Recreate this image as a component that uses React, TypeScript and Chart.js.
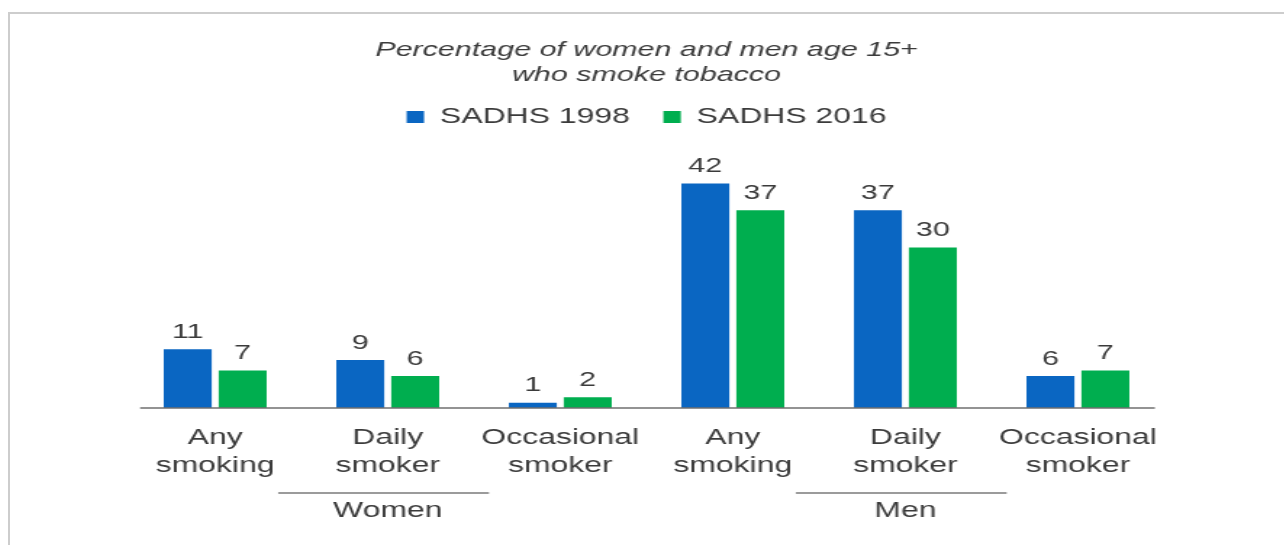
import React, { useEffect, useRef } from "react";
import { Chart, registerables } from "chart.js";

Chart.register(...registerables);

// Chart content
const titleLines = ["Percentage of women and men age 15+", "who smoke tobacco"];
const categories = [
  ["Any", "smoking"],
  ["Daily", "smoker"],
  ["Occasional", "smoker"],
  ["Any", "smoking"],
  ["Daily", "smoker"],
  ["Occasional", "smoker"],
];
const groups = ["Women", "Men"];
const seriesNames = ["SADHS 1998", "SADHS 2016"];
const values1998 = [11, 9, 1, 42, 37, 6];
const values2016 = [7, 6, 2, 37, 30, 7];

const FONT = "'Liberation Sans', Arial, Helvetica, sans-serif";
const TEXT = "#3b3b3b";
const BLUE = "#0a66c2";
const GREEN = "#00ae4f";
// the whole drawing is widened horizontally
const STRETCH = 1.45;

// numbers above each bar
const valueLabels = {
  id: "valueLabels",
  afterDatasetsDraw(chart: any) {
    const ctx = chart.ctx;
    ctx.save();
    ctx.font = `21px ${FONT}`;
    ctx.fillStyle = TEXT;
    ctx.textAlign = "center";
    ctx.textBaseline = "middle";
    chart.data.datasets.forEach((ds: any, i: number) => {
      const meta = chart.getDatasetMeta(i);
      meta.data.forEach((bar: any, j: number) => {
        ctx.fillText(String(ds.data[j]), bar.x, bar.y - 17);
      });
    });
    ctx.restore();
  },
};

// baseline plus the Women / Men group underlines
const axisAndGroups = {
  id: "axisAndGroups",
  afterDatasetsDraw(chart: any) {
    const { ctx, chartArea } = chart;
    const x = chart.scales.x;
    ctx.save();
    ctx.strokeStyle = "#6f6f6f";
    ctx.lineWidth = 1.5;
    ctx.beginPath();
    ctx.moveTo(x.getPixelForValue(-0.435), chartArea.bottom);
    ctx.lineTo(x.getPixelForValue(5.446), chartArea.bottom);
    ctx.stroke();

    const lineY = chartArea.bottom + 85;
    const labelY = chartArea.bottom + 103;
    ctx.strokeStyle = "#7a7a7a";
    ctx.font = `22px ${FONT}`;
    ctx.fillStyle = TEXT;
    ctx.textAlign = "center";
    ctx.textBaseline = "middle";
    groups.forEach((g, gi) => {
      const start = gi * 3;
      ctx.beginPath();
      ctx.moveTo(x.getPixelForValue(start + 0.365), lineY);
      ctx.lineTo(x.getPixelForValue(start + 1.587), lineY);
      ctx.stroke();
      ctx.fillText(g, x.getPixelForValue(start + 1), labelY);
    });
    ctx.restore();
  },
};

export default function App() {
  const ref = useRef<HTMLCanvasElement>(null);

  useEffect(() => {
    const chart = new Chart(ref.current as HTMLCanvasElement, {
      type: "bar",
      data: {
        labels: categories,
        datasets: [
          {
            label: seriesNames[0] + "  ",
            data: values1998,
            backgroundColor: BLUE,
            borderWidth: 0,
            categoryPercentage: 0.637,
            barPercentage: 0.873,
          },
          {
            label: seriesNames[1],
            data: values2016,
            backgroundColor: GREEN,
            borderWidth: 0,
            categoryPercentage: 0.637,
            barPercentage: 0.873,
          },
        ],
      },
      options: {
        animation: false,
        responsive: true,
        maintainAspectRatio: false,
        events: [],
        layout: { padding: { left: 82, right: 84, top: 0, bottom: 57 } },
        plugins: {
          title: {
            display: true,
            text: titleLines,
            color: TEXT,
            font: { family: FONT, size: 21, style: "italic", weight: "normal", lineHeight: "25px" },
            padding: { top: 23.5, bottom: 7.5 },
          },
          legend: {
            display: true,
            position: "top",
            labels: {
              color: TEXT,
              font: { family: FONT, size: 22 },
              boxWidth: 12,
              boxHeight: 12,
              padding: 11,
            },
          },
          tooltip: { enabled: false },
        },
        scales: {
          x: {
            grid: { display: false },
            border: { display: false },
            ticks: {
              color: TEXT,
              font: { family: FONT, size: 22, lineHeight: "28px" },
              padding: 8,
              maxRotation: 0,
              autoSkip: false,
            },
          },
          y: {
            display: false,
            min: 0,
            max: 50.5,
          },
        },
      },
      plugins: [valueLabels, axisAndGroups],
    });
    return () => chart.destroy();
  }, []);

  return (
    <div
      style={{
        position: "absolute",
        left: 8,
        top: 12,
        width: 1276,
        height: 533,
        borderTop: "2px solid #cdcdcd",
        borderLeft: "2px solid #cdcdcd",
        boxSizing: "border-box",
        overflow: "hidden",
        background: "#fff",
      }}
    >
      <div
        style={{
          position: "absolute",
          left: 0,
          top: 0,
          width: 880,
          height: 531,
          transform: `scaleX(${STRETCH})`,
          transformOrigin: "0 0",
        }}
      >
        <canvas ref={ref} />
      </div>
    </div>
  );
}
